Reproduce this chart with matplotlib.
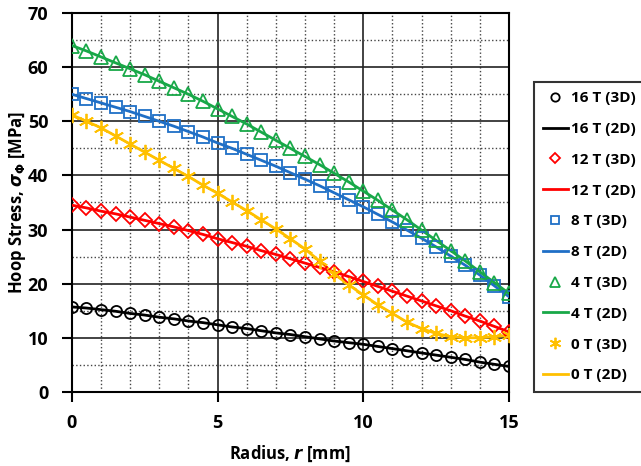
import matplotlib.pyplot as plt
from matplotlib.ticker import MultipleLocator

plt.rcParams['font.family'] = ['Open Sans', 'DejaVu Sans']
plt.rcParams['font.weight'] = 'bold'
plt.rcParams['mathtext.fontset'] = 'dejavusans'

radius = [i * 0.5 for i in range(31)]

stress_16t = [15.7, 15.5, 15.2, 14.9, 14.5, 14.2, 13.8, 13.5, 13.1, 12.8, 12.4,
              12.0, 11.7, 11.3, 10.9, 10.6, 10.2, 9.8, 9.4, 9.1, 8.8,
              8.4, 8.0, 7.6, 7.2, 6.8, 6.4, 6.0, 5.5, 5.1, 4.7]
stress_12t = [34.5, 34.0, 33.4, 32.9, 32.3, 31.7, 31.1, 30.5, 29.8, 29.1, 28.3,
              27.6, 26.9, 26.1, 25.4, 24.6, 23.8, 23.0, 22.2, 21.3, 20.4,
              19.5, 18.6, 17.7, 16.8, 15.9, 15.0, 14.0, 13.1, 12.1, 11.1]
stress_8t = [55.0, 54.2, 53.4, 52.6, 51.8, 50.9, 50.0, 49.1, 48.1, 47.1, 46.0,
             45.0, 43.9, 42.8, 41.7, 40.5, 39.3, 38.1, 36.8, 35.5, 34.2,
             32.8, 31.4, 29.9, 28.4, 26.8, 25.1, 23.4, 21.6, 19.6, 17.6]
stress_4t = [64.0, 63.0, 61.9, 60.8, 59.7, 58.6, 57.4, 56.2, 55.0, 53.7, 52.3,
             50.9, 49.5, 48.0, 46.5, 45.0, 43.5, 42.0, 40.4, 38.8, 37.1,
             35.4, 33.6, 31.8, 29.9, 28.0, 26.1, 24.2, 22.2, 20.2, 18.2]
stress_0t = [51.2, 50.0, 48.8, 47.3, 45.8, 44.3, 42.8, 41.3, 39.8, 38.2, 36.7,
             35.1, 33.5, 31.8, 30.1, 28.3, 26.4, 24.2, 21.8, 19.8, 17.9,
             16.1, 14.5, 12.9, 11.7, 10.8, 10.2, 10.0, 10.0, 10.2, 10.5]

fields = ['16 T', '12 T', '8 T', '4 T', '0 T']
series = [stress_16t, stress_12t, stress_8t, stress_4t, stress_0t]
colors = ['black', '#FF0000', '#1F6FC6', '#18A848', '#FFC000']
markers = ['o', 'D', 's', '^', (6, 2, 0)]
msizes = [8, 7, 8, 10, 11]

fig = plt.figure(figsize=(6.41, 4.66), dpi=100)
ax = fig.add_axes([0.112, 0.159, 0.682, 0.813])

handles = []
for name, vals, c, m, ms in zip(fields, series, colors, markers, msizes):
    l2d, = ax.plot(radius, vals, color=c, lw=2, zorder=3)
    l3d, = ax.plot(radius, vals, ls='none', marker=m, ms=ms, mfc='none',
                   mec=c, mew=1.3, zorder=4)
    handles.append((l3d, name + ' (3D)'))
    handles.append((l2d, name + ' (2D)'))

ax.set_xlim(0, 15)
ax.set_ylim(0, 70)
ax.xaxis.set_major_locator(MultipleLocator(5))
ax.xaxis.set_minor_locator(MultipleLocator(1))
ax.yaxis.set_major_locator(MultipleLocator(10))
ax.yaxis.set_minor_locator(MultipleLocator(5))
ax.grid(which='major', color='#222222', lw=1.2)
ax.grid(which='minor', color='#444444', lw=1, ls=':')
ax.set_axisbelow(True)
for s in ax.spines.values():
    s.set_linewidth(1.5)
ax.tick_params(which='major', direction='out', length=7, width=1.5,
               labelsize=13)
ax.tick_params(which='minor', length=0)
ax.tick_params(axis='x', pad=9)
ax.tick_params(axis='y', pad=10)

ax.set_xlabel('Radius, $\\it{r}$ [mm]', fontsize=12, fontweight='bold', labelpad=8)
ax.set_ylabel('Hoop Stress, $\\sigma_{\\Phi}$ [MPa]', fontsize=12,
              fontweight='bold', labelpad=0)

leg = fig.legend([h for h, _ in handles], [t for _, t in handles],
                 loc='upper left', bbox_to_anchor=(0.833, 0.824),
                 fontsize=11, frameon=True, fancybox=False, edgecolor='black',
                 handlelength=1.6, handletextpad=0.25, labelspacing=1.1,
                 borderpad=0.6, borderaxespad=0, markerscale=0.75)
leg.get_frame().set_linewidth(1.5)

fig.savefig('out.png', dpi=100)
